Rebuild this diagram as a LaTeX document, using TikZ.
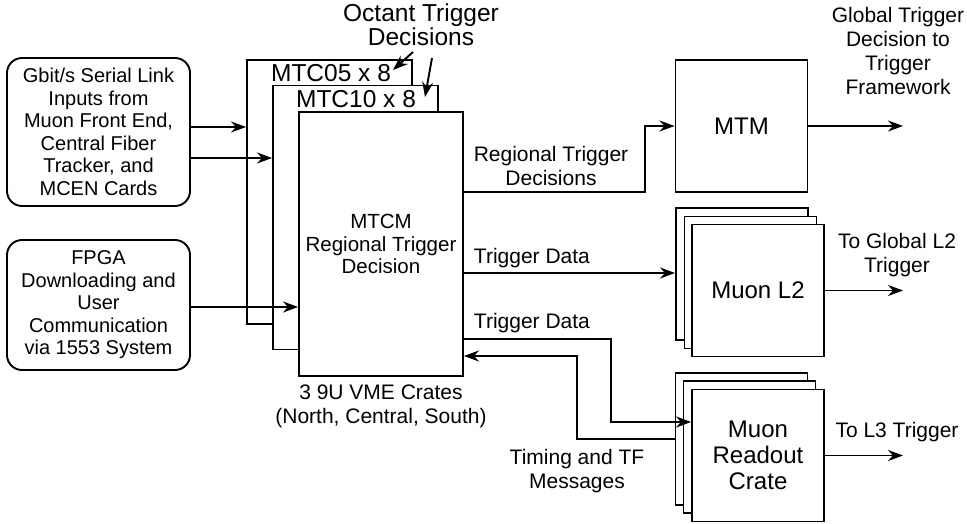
\documentclass[tikz,border=0pt]{standalone}
\usepackage{fontspec}
\setmainfont{Liberation Sans}
\usetikzlibrary{arrows.meta,positioning}

\begin{document}
\begin{tikzpicture}[
x=1pt,y=-1pt,
line width=1.9pt,
src/.style={draw,rounded corners=15pt,minimum width=183pt,inner sep=0pt,align=center,font=\fontsize{20}{22.5}\selectfont},
crate/.style={draw,fill=white,minimum width=165pt,minimum height=264pt,inner sep=0pt,align=center,font=\fontsize{20.5}{22.5}\selectfont},
blk/.style={draw,fill=white,minimum width=132pt,minimum height=132pt,inner sep=0pt,align=center,font=\fontsize{24}{26}\selectfont},
lbl/.style={align=center,inner sep=0pt,font=\fontsize{21}{24}\selectfont},
big/.style={align=center,inner sep=0pt,font=\fontsize{24.5}{24}\selectfont},
t/.style={-{Stealth[length=15pt,width=11pt]}}
]
\useasboundingbox (0,0) rectangle (967,524);

\node[src,minimum height=148pt] (links) at (98.5,132) {Gbit/s Serial Link\\Inputs from\\Muon Front End,\\Central Fiber\\Tracker, and\\MCEN Cards};
\node[src,minimum height=130pt] (fpga) at (98.5,305) {FPGA\\Downloading and\\User\\Communication\\via 1553 System};

\node[crate] (mtc05) at (329.5,192) {};
\node[crate] (mtc10) at (355.5,217.5) {};
\node[crate,minimum width=164pt] (mtcm) at (381,244) {MTCM\\Regional Trigger\\Decision};
\node[big] (lab05) at (331,73) {MTC05 x 8};
\node[big] (lab10) at (356,99) {MTC10 x 8};
\node[big] (octant) at (421,25) {Octant Trigger\\Decisions};
\node[lbl,below=7pt of mtcm] (vme) {3 9U VME Crates\\(North, Central, South)};

\node[blk] (mtm) at (741.5,126) {MTM};
\node[blk] (l2a) at (742,274) {};
\node[blk] (l2b) at (750.5,282.5) {};
\node[blk] (l2c) at (758,290.5) {Muon L2};
\node[blk] (roa) at (741.5,439) {};
\node[blk] (rob) at (749.5,447) {};
\node[blk] (roc) at (758,455.5) {Muon\\Readout\\Crate};

\node[lbl] (regdec) at (551,166) {Regional Trigger\\Decisions};
\node[lbl,anchor=west] (tdata1) at (473,258) {Trigger Data};
\node[lbl,anchor=west] (tdata2) at (473,323) {Trigger Data};
\node[lbl] (timing) at (577,471) {Timing and TF\\Messages};
\node[lbl] (global) at (898,51) {Global Trigger\\Decision to\\Trigger\\Framework};
\node[lbl] (tol2) at (897,255) {To Global L2\\Trigger};
\node[lbl] (tol3) at (897,432) {To L3 Trigger};

\coordinate (gout) at (903,126);
\coordinate (l2out) at (903,290.5);
\coordinate (l3out) at (903,455.5);
\coordinate (oct1s) at (413,52);
\coordinate (oct1) at (393,70);
\coordinate (oct2s) at (432,58);
\coordinate (oct2) at (425,97);

\draw[t] ([yshift=5pt]links.east) -- ([yshift=5pt]links.east -| mtc05.west);
\draw[t] ([yshift=-26pt]links.east) -- ([yshift=-26pt]links.east -| mtc10.west);
\draw[t] ([yshift=-2pt]fpga.east) -- ([yshift=-2pt]fpga.east -| mtcm.west);
\draw[t] ([yshift=52pt]mtcm.east) -- ++(181,0) |- (mtm.west);
\draw[t] ([yshift=-29pt]mtcm.east) -- ([yshift=-29pt]mtcm.east -| l2a.west);
\draw[t] ([yshift=-95pt]mtcm.east) -- ++(147,0) |- ([yshift=33.5pt]roc.west);
\draw[t] (roa.west) -- ++(-98,0) |- ([yshift=-112pt]mtcm.east);
\draw[t] (mtm.east) -- (gout);
\draw[t] (l2c.east) -- (l2out);
\draw[t] (roc.east) -- (l3out);
\draw[t] (oct1s) -- (oct1);
\draw[t] (oct2s) -- (oct2);
\end{tikzpicture}
\end{document}
